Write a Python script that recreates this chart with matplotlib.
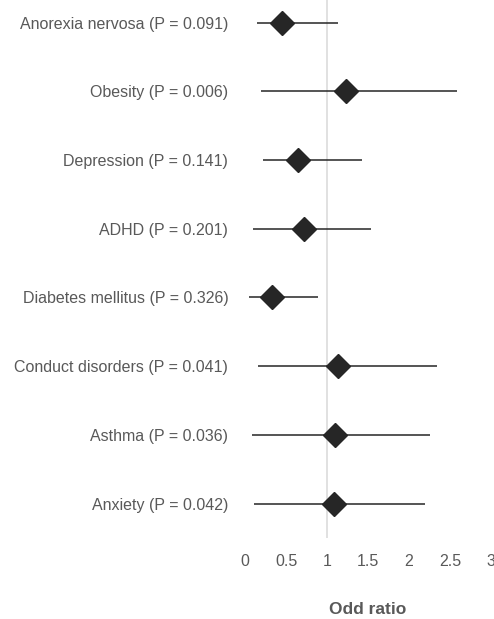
import numpy as np
import matplotlib.pyplot as plt

plt.rcParams['font.family'] = ['Liberation Sans', 'DejaVu Sans']

labels = ['Anorexia nervosa (P = 0.091)', 'Obesity (P = 0.006)', 'Depression (P = 0.141)',
          'ADHD (P = 0.201)', 'Diabetes mellitus (P = 0.326)', 'Conduct disorders (P = 0.041)',
          'Asthma (P = 0.036)', 'Anxiety (P = 0.042)']
odds = [0.45, 1.23, 0.64, 0.72, 0.33, 1.13, 1.10, 1.08]
lower = [0.14, 0.195, 0.22, 0.10, 0.05, 0.16, 0.085, 0.11]
upper = [1.13, 2.58, 1.43, 1.54, 0.89, 2.34, 2.25, 2.20]

odds = np.array(odds)
lower = np.array(lower)
upper = np.array(upper)
ypos = np.arange(len(labels), 0, -1)

fig = plt.figure(figsize=(4.94, 6.19), dpi=100)
ax = fig.add_axes([0.496, 0.131, 0.498, 0.869])

ax.axvline(1, color='#d9d9d9', lw=1.1, zorder=1)
ax.errorbar(odds, ypos, xerr=[odds - lower, upper - odds], fmt='D', color='#262626',
            ecolor='#262626', elinewidth=1.1, capsize=0, ms=12, zorder=3)

ax.set_xlim(0, 3)
ax.set_ylim(0.5, 8.33)
ax.set_xticks(np.arange(0, 3.01, 0.5))
ax.set_xticklabels(['0', '0.5', '1', '1.5', '2', '2.5', '3'])
ax.set_yticks(ypos)
ax.set_yticklabels(labels)
ax.tick_params(length=0, colors='#595959', labelsize=11.5)
ax.tick_params(axis='y', pad=12)
ax.tick_params(axis='x', pad=11.5)
for s in ax.spines.values():
    s.set_visible(False)
ax.set_xlabel('Odd ratio', color='#595959', fontsize=12.5, fontweight='bold', labelpad=24)

fig.savefig('out.png', dpi=100)
